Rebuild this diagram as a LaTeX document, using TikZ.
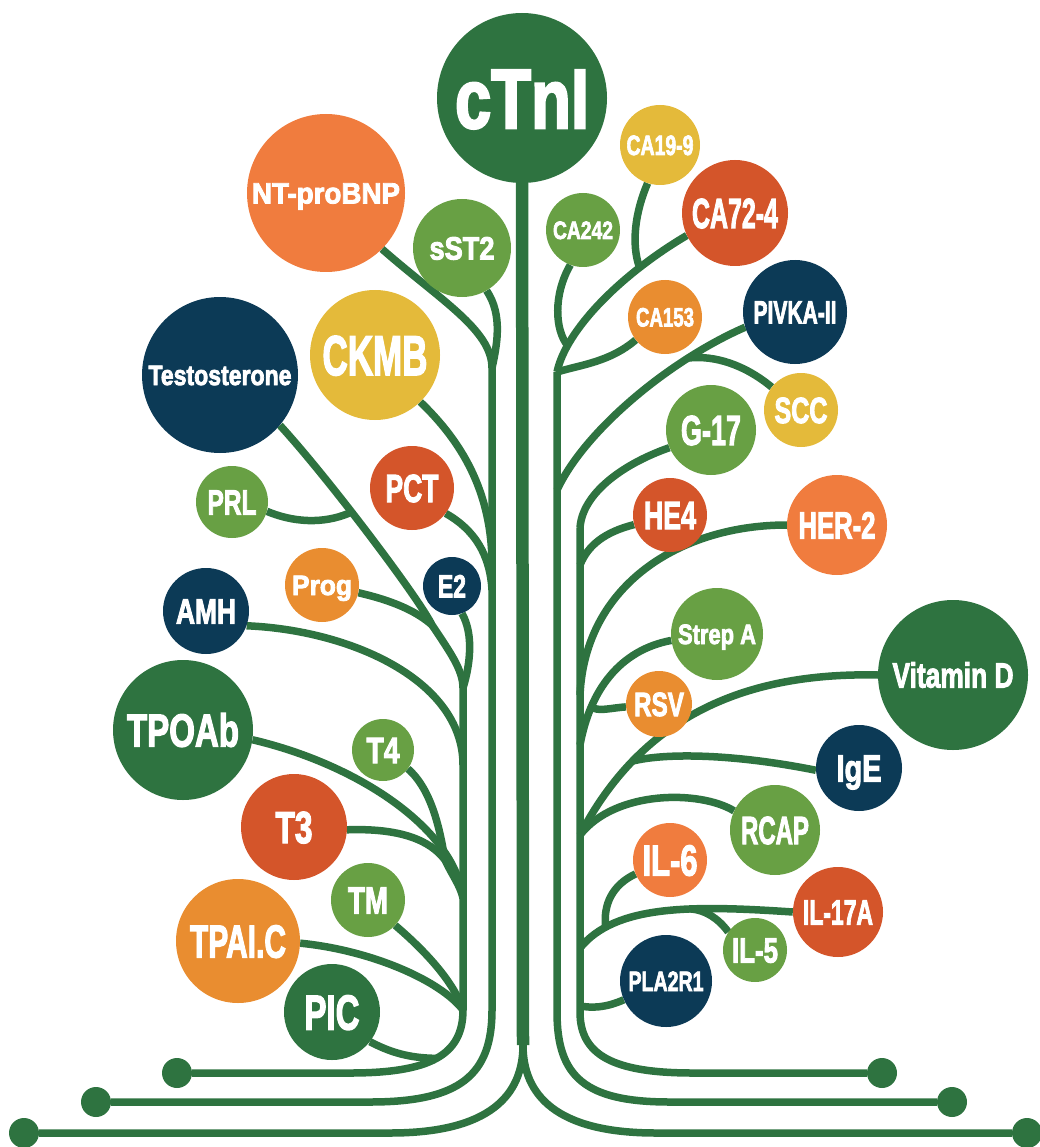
\documentclass[tikz,border=0pt]{standalone}
\usepackage{fontspec}
\usepackage{graphicx}
\usepackage{xcolor}
\usetikzlibrary{backgrounds}
\newfontfamily\lblfont{Liberation Sans}[BoldFeatures={FakeBold=3}]
\definecolor{treegreen}{RGB}{46,115,64}
\definecolor{leafgreen}{RGB}{104,160,68}
\definecolor{navy}{RGB}{12,58,86}
\definecolor{mustard}{RGB}{228,186,58}
\definecolor{brick}{RGB}{212,85,42}
\definecolor{coral}{RGB}{240,124,62}
\definecolor{amber}{RGB}{233,141,48}
\newcommand\lbl[3]{\smash{\resizebox{#2pt}{\height}{\fontsize{\fpeval{1.4*#1}}{\fpeval{1.4*#1}}\selectfont #3}}\rule{0pt}{#1pt}}

\begin{document}
\begin{tikzpicture}[x=1pt, y=-1pt,
  bub/.style={circle, inner sep=0pt, text=white, font=\lblfont\bfseries},
  rail/.style={circle, fill=treegreen, inner sep=0pt, minimum size=30pt},
  twig/.style={draw=treegreen, line width=7.5pt},
  trunk/.style={draw=treegreen, line width=12.5pt}
]
  \useasboundingbox (0,0) rectangle (1039,1147);

  \node[bub, fill=treegreen, minimum size=170pt] (ctni) at (522,98) {\lbl{60}{134}{cTnI}};

  \node[bub, fill=coral, minimum size=158pt] (ntbnp) at (326,193) {\lbl{21}{148}{NT-proBNP}};
  \node[bub, fill=leafgreen, minimum size=98pt] (sst2) at (462,248) {\lbl{23}{65}{sST2}};
  \node[bub, fill=mustard, minimum size=130pt] (ckmb) at (375,355) {\lbl{40}{105}{CKMB}};
  \node[bub, fill=navy, minimum size=156pt] (testo) at (220,375) {\lbl{20}{143}{Testosterone}};
  \node[bub, fill=brick, minimum size=84pt] (pct) at (412,488) {\lbl{28}{53}{PCT}};
  \node[bub, fill=leafgreen, minimum size=72pt] (prl) at (232,502) {\lbl{25}{49}{PRL}};
  \node[bub, fill=navy, minimum size=58pt] (etwo) at (452,586) {\lbl{23}{28}{E2}};
  \node[bub, fill=amber, minimum size=74pt] (prog) at (322,585) {\lbl{20}{60}{Prog}};
  \node[bub, fill=navy, minimum size=86pt] (amh) at (206,611) {\lbl{25}{60}{AMH}};
  \node[bub, fill=treegreen, minimum size=140pt] (tpoab) at (183,730) {\lbl{33}{112}{TPOAb}};
  \node[bub, fill=leafgreen, minimum size=62pt] (tfour) at (383,750) {\lbl{26}{33}{T4}};
  \node[bub, fill=brick, minimum size=106pt] (tthree) at (294,827) {\lbl{32}{37}{T3}};
  \node[bub, fill=leafgreen, minimum size=74pt] (tm) at (368,900) {\lbl{27}{40}{TM}};
  \node[bub, fill=amber, minimum size=124pt] (tpai) at (238,941) {\lbl{33}{96}{TPAI.C}};
  \node[bub, fill=treegreen, minimum size=96pt] (pic) at (332,1012) {\lbl{35}{55}{PIC}};

  \node[bub, fill=mustard, minimum size=80pt] (ca199) at (660,145) {\lbl{20}{67}{CA19-9}};
  \node[bub, fill=brick, minimum size=106pt] (ca724) at (735,213) {\lbl{30}{86}{CA72-4}};
  \node[bub, fill=leafgreen, minimum size=74pt] (ca242) at (583,230) {\lbl{18}{60}{CA242}};
  \node[bub, fill=amber, minimum size=74pt] (ca153) at (665,317) {\lbl{19}{58}{CA153}};
  \node[bub, fill=navy, minimum size=104pt] (pivka) at (795,312) {\lbl{23}{83}{PIVKA-II}};
  \node[bub, fill=mustard, minimum size=74pt] (scc) at (801,410) {\lbl{26}{53}{SCC}};
  \node[bub, fill=leafgreen, minimum size=90pt] (gseven) at (711,430) {\lbl{30}{60}{G-17}};
  \node[bub, fill=brick, minimum size=74pt] (hefour) at (670,515) {\lbl{28}{52}{HE4}};
  \node[bub, fill=coral, minimum size=100pt] (hertwo) at (837,525) {\lbl{27}{77}{HER-2}};
  \node[bub, fill=leafgreen, minimum size=92pt] (strep) at (717,634) {\lbl{20}{78}{Strep A}};
  \node[bub, fill=amber, minimum size=66pt] (rsv) at (659,704) {\lbl{24}{50}{RSV}};
  \node[bub, fill=treegreen, minimum size=150pt] (vitd) at (953,675) {\lbl{25}{121}{Vitamin D}};
  \node[bub, fill=navy, minimum size=86pt] (ige) at (859,768) {\lbl{27}{45}{IgE}};
  \node[bub, fill=leafgreen, minimum size=90pt] (rcap) at (775,830) {\lbl{28}{68}{RCAP}};
  \node[bub, fill=coral, minimum size=74pt] (ilsix) at (670,860) {\lbl{31}{55}{IL-6}};
  \node[bub, fill=brick, minimum size=90pt] (ilseventeen) at (838,912) {\lbl{25}{70}{IL-17A}};
  \node[bub, fill=leafgreen, minimum size=64pt] (ilfive) at (755,950) {\lbl{25}{46}{IL-5}};
  \node[bub, fill=navy, minimum size=92pt] (pla) at (666,981) {\lbl{20}{75}{PLA2R1}};

  \node[rail] (railL1) at (177,1073) {};
  \node[rail] (railL2) at (96,1102) {};
  \node[rail] (railL3) at (24,1133) {};
  \node[rail] (railR1) at (882,1073) {};
  \node[rail] (railR2) at (952,1102) {};
  \node[rail] (railR3) at (1027,1133) {};

  \coordinate (trunkBot) at (523,1045);
  \coordinate (aTop) at (492,368);
  \coordinate (aCK) at (492,565);
  \coordinate (aPC) at (492,590);
  \coordinate (aBot) at (492,1010);
  \coordinate (bTop) at (463,688);
  \coordinate (bAM) at (463,765);
  \coordinate (bTP) at (463,898);
  \coordinate (bBot) at (463,1010);
  \coordinate (jProg) at (432,625);
  \coordinate (jT) at (445,860);
  \coordinate (cTop) at (557,372);
  \coordinate (cPV) at (557,490);
  \coordinate (cBot) at (557,1012);
  \coordinate (dTop) at (580,528);
  \coordinate (dHE) at (580,565);
  \coordinate (dHR) at (580,695);
  \coordinate (dST) at (580,745);
  \coordinate (dVD) at (580,835);
  \coordinate (dIL) at (580,948);
  \coordinate (dPL) at (580,1006);
  \coordinate (dBot) at (580,1012);

  \begin{scope}[on background layer]
    \draw[trunk] (ctni) -- (trunkBot);
    \draw[twig] (trunkBot) .. controls (523,1095) and (490,1133) .. (390,1133) -- (railL3);
    \draw[twig] (trunkBot) .. controls (523,1095) and (556,1133) .. (656,1133) -- (railR3);
    \draw[twig] (aTop) -- (aBot) .. controls (492,1075) and (460,1102) .. (370,1102) -- (railL2);
    \draw[twig] (bTop) -- (bBot) .. controls (463,1055) and (430,1073) .. (350,1073) coordinate[pos=0.5] (bPIC) -- (railL1);
    \draw[twig] (cTop) -- (cBot) .. controls (557,1077) and (585,1102) .. (670,1102) -- (railR2);
    \draw[twig] (dTop) -- (dBot) .. controls (580,1055) and (613,1073) .. (693,1073) -- (railR1);

    \draw[twig] (ntbnp.-45) .. controls (440,300) and (492,330) .. (aTop);
    \draw[twig] (sst2.-60) .. controls (503,315) and (497,345) .. (aTop);
    \draw[twig] (ckmb.-46) .. controls (460,440) and (492,490) .. (aCK);
    \draw[twig] (pct.-37) .. controls (475,530) and (490,555) .. (aPC);
    \draw[twig] (testo.-40) .. controls (330,480) and (420,600) .. (jProg) coordinate[pos=0.4] (jPRL)
      .. controls (450,652) and (463,670) .. (bTop);
    \draw[twig] (prl.-15) .. controls (300,525) and (330,522) .. (jPRL);
    \draw[twig] (prog.-12) .. controls (390,600) and (415,610) .. (jProg);
    \draw[twig] (etwo.-70) .. controls (474,635) and (470,665) .. (bTop);
    \draw[twig] (amh.-20) .. controls (350,630) and (463,680) .. (bAM);
    \draw[twig] (tpoab.-8) .. controls (360,765) and (455,830) .. (bTP);
    \draw[twig] (tfour.-37) .. controls (432,790) and (440,830) .. (jT);
    \draw[twig] (tthree.-3) .. controls (400,828) and (430,840) .. (jT) .. controls (452,875) and (460,885) .. (bTP);
    \draw[twig] (tm.-43) .. controls (430,955) and (455,985) .. (bBot);
    \draw[twig] (tpai.-2) .. controls (370,950) and (440,980) .. (bBot);
    \draw[twig] (pic.-38) .. controls (395,1055) and (415,1058) .. (bPIC);

    \draw[twig] (ca724.205) .. controls (620,275) and (566,330) .. (cTop) coordinate[pos=0.25] (jCA19) coordinate[pos=0.8] (jCA242);
    \draw[twig] (ca199.-108) .. controls (632,220) and (633,250) .. (jCA19);
    \draw[twig] (ca242.-110) .. controls (553,295) and (555,330) .. (jCA242);
    \draw[twig] (ca153.218) .. controls (610,362) and (580,365) .. (cTop);
    \draw[twig] (pivka.197) .. controls (670,360) and (585,430) .. (cPV) coordinate[pos=0.25] (jSCC);
    \draw[twig] (scc.142) .. controls (745,365) and (715,355) .. (jSCC);
    \draw[twig] (gseven.203) .. controls (620,465) and (582,495) .. (dTop);
    \draw[twig] (hefour.195) .. controls (605,532) and (588,545) .. (dHE);
    \draw[twig] (hertwo.180) .. controls (680,525) and (585,585) .. (dHR);
    \draw[twig] (strep.188) .. controls (620,650) and (590,690) .. (dST) coordinate[pos=0.75] (jRSV);
    \draw[twig] (rsv.185) .. controls (610,708) and (598,712) .. (jRSV);
    \draw[twig] (vitd.180) .. controls (740,672) and (640,720) .. (dVD) coordinate[pos=0.75] (jIgE);
    \draw[twig] (ige.183) .. controls (740,755) and (670,752) .. (jIgE);
    \draw[twig] (rcap.155) .. controls (700,790) and (615,790) .. (dVD);
    \draw[twig] (ilseventeen.180) .. controls (690,905) and (615,905) .. (dIL) coordinate[pos=0.37] (jILfive) coordinate[pos=0.8] (jILsix);
    \draw[twig] (ilsix.202) .. controls (612,885) and (603,905) .. (jILsix);
    \draw[twig] (ilfive.146) .. controls (718,918) and (705,910) .. (jILfive);
    \draw[twig] (pla.204) .. controls (605,1008) and (592,1008) .. (dPL);
  \end{scope}
\end{tikzpicture}
\end{document}
